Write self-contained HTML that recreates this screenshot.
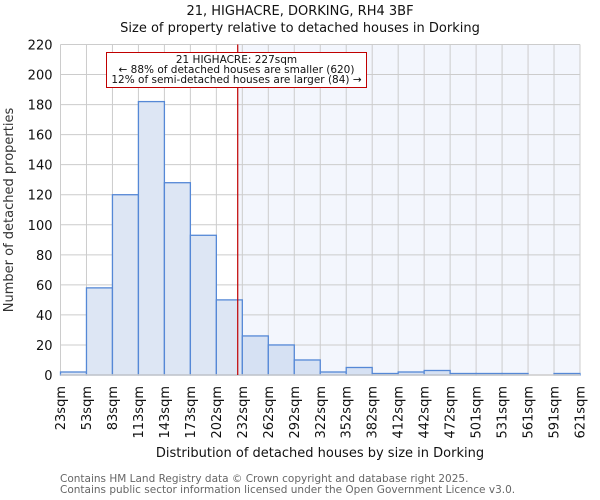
<!DOCTYPE html>
<html><head><meta charset="utf-8"><style>
body{margin:0;background:#fff}
svg{display:block;font-family:"DejaVu Sans","Liberation Sans",sans-serif}
</style></head><body>
<svg id="chart" width="600" height="500">
<text x="300" y="15" text-anchor="middle" font-size="13" fill="#111">21, HIGHACRE, DORKING, RH4 3BF</text>
<text x="300" y="32" text-anchor="middle" font-size="13" fill="#111">Size of property relative to detached houses in Dorking</text>
<g id="plot"></g>
<text transform="translate(13,210) rotate(-90)" text-anchor="middle" font-size="13" fill="#333">Number of detached properties</text>
<text x="320" y="457" text-anchor="middle" font-size="13" fill="#111">Distribution of detached houses by size in Dorking</text>
<text x="60" y="482" font-size="10.5" fill="#666">Contains HM Land Registry data © Crown copyright and database right 2025.</text>
<text x="60" y="493" font-size="10.5" fill="#666">Contains public sector information licensed under the Open Government Licence v3.0.</text>
</svg>
<script>
const categories=["23sqm","53sqm","83sqm","113sqm","143sqm","173sqm","202sqm","232sqm","262sqm","292sqm","322sqm","352sqm","382sqm","412sqm","442sqm","472sqm","501sqm","531sqm","561sqm","591sqm","621sqm"];
const counts=[2,58,120,182,128,93,50,26,20,10,2,5,1,2,3,1,1,1,0,1];
const yTicks=[0,20,40,60,80,100,120,140,160,180,200,220];
const binStart=23, binWidth=29.9, propertySize=227;
const X0=60.5,X1=580,Y0=375,Y1=44.5;
const nb=counts.length;
const xs=v=>X0+(v-binStart)/(binWidth*nb)*(X1-X0);
const xi=i=>X0+i*(X1-X0)/nb;
const ys=v=>Y0-v/220*(Y0-Y1);
const NS="http://www.w3.org/2000/svg";
const g=document.getElementById('plot');
function mk(t,a){const e=document.createElementNS(NS,t);for(const k in a)e.setAttribute(k,a[k]);g.appendChild(e);return e;}
let e;
const px=xs(propertySize);
e=mk('rect',{x:px,y:Y1,width:X1-px,height:Y0-Y1,fill:'#f3f6fd'});


for(let i=0;i<=nb;i++){e=mk('line',{x1:xi(i),x2:xi(i),y1:Y1,y2:Y0,stroke:'#cccccc','stroke-width':1});

}
yTicks.forEach(t=>{e=mk('line',{x1:X0,x2:X1,y1:ys(t),y2:ys(t),stroke:'#cccccc','stroke-width':1});


const tx=mk('text',{x:X0-8,y:ys(t)+5,'text-anchor':'end','font-size':13,fill:'#111'});tx.textContent=t;

});
counts.forEach((c,i)=>{if(c<=0)return;const left=xi(i)>=px;
e=mk('rect',{x:xi(i),y:ys(c),width:xi(i+1)-xi(i),height:Y0-ys(c),fill:left?'#d6e1f3':'#dde6f4',stroke:'#5588d6','stroke-width':1.3});

});
e=mk('line',{x1:X0,x2:X1,y1:Y0,y2:Y0,stroke:'#cccccc','stroke-width':1.5});


categories.forEach((c,i)=>{const x=xi(i)+4.5;const t=mk('text',{transform:`translate(${x},386) rotate(-90)`,'text-anchor':'end','font-size':13,fill:'#111'});t.textContent=c;

});
e=mk('line',{x1:px,x2:px,y1:Y1,y2:Y0,stroke:'#c00000','stroke-width':1.2});


e=mk('rect',{x:106.5,y:52.5,width:260,height:35,fill:'#fff',stroke:'#c00000','stroke-width':1});


[["21 HIGHACRE: 227sqm",63],["← 88% of detached houses are smaller (620)",73],["12% of semi-detached houses are larger (84) →",83]].forEach(([s,y])=>{const t=mk('text',{x:236.5,y:y,'text-anchor':'middle','font-size':10.5,fill:'#111'});t.textContent=s;

});
</script>
</body></html>
